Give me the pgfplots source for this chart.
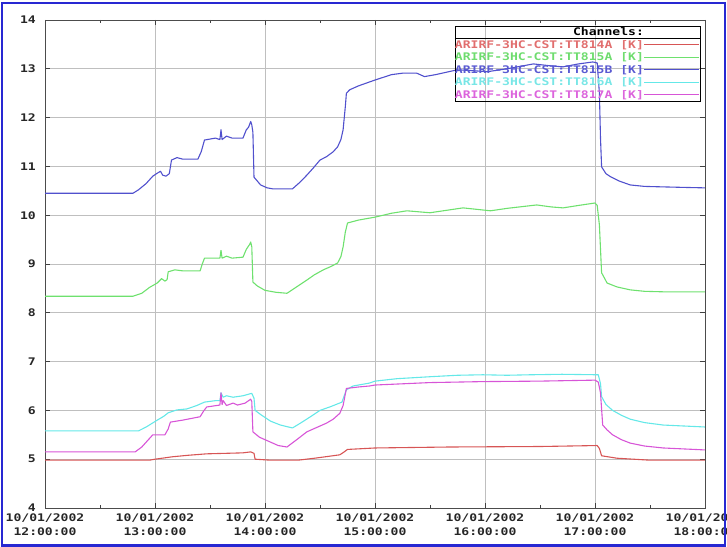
\documentclass[border=0pt]{standalone}
\usepackage{fontspec}
\usepackage{pgfplots}
\pgfplotsset{compat=1.18}
\newfontfamily\pix[FakeStretch=1.25]{DejaVu Sans Mono}
\definecolor{cred}{RGB}{215,85,85}
\definecolor{cgreen}{RGB}{110,225,110}
\definecolor{cblue}{RGB}{80,80,205}
\definecolor{ccyan}{RGB}{100,232,232}
\definecolor{cmag}{RGB}{215,85,215}
\definecolor{lred}{RGB}{225,110,110}
\definecolor{lgreen}{RGB}{110,220,110}
\definecolor{lblue}{RGB}{90,90,210}
\definecolor{lcyan}{RGB}{120,230,230}
\definecolor{lmag}{RGB}{220,100,220}
\definecolor{frameblue}{RGB}{40,40,210}
\begin{document}
\begin{tikzpicture}
\useasboundingbox (0,0) rectangle (727bp,547bp);
\begin{scope}
\clip (0,0) rectangle (727bp,547bp);
\begin{axis}[
  at={(45bp,39bp)}, anchor=south west,
  scale only axis, width=660bp, height=488bp,
  xmin=0, xmax=6, ymin=4, ymax=14,
  xtick={0,1,2,3,4,5,6},
  minor xtick={0.5,1.5,2.5,3.5,4.5,5.5},
  xticklabels={{10/01/2002\\12:00:00},{10/01/2002\\13:00:00},{10/01/2002\\14:00:00},{10/01/2002\\15:00:00},{10/01/2002\\16:00:00},{10/01/2002\\17:00:00},{10/01/2002\\18:00:00}},
  ytick={4,5,6,7,8,9,10,11,12,13,14},
  yticklabels={4,5,6,7,8,9,10,11,12,13,14},
  xticklabel style={font=\pix\bfseries\fontsize{10.5}{13.3}\selectfont, text=black!85, align=center, inner sep=0pt, yshift=-6bp},
  yticklabel style={font=\pix\bfseries\fontsize{10.5}{12}\selectfont, text=black!85, inner sep=0pt, xshift=-9bp},
  grid=major,
  grid style={color=black!25, line width=0.8pt},
  axis line style={color=black!70, line width=0.8pt},
  tick style={color=black!75, line width=0.8pt},
  tick align=inside,
  major tick length=5bp, minor tick length=3bp,
  every axis plot/.append style={line width=1.1pt, line join=round},
  legend style={name=leg, at={(0.6212,0.9877)}, anchor=north west, draw=black, line width=0.8pt, fill=none,
    inner sep=0pt, outer sep=0pt, row sep=0pt, column sep=0pt,
    font=\pix\bfseries\fontsize{10.5}{12}\selectfont,
    nodes={inner sep=0pt, text height=9.7bp, text depth=2.8bp}},
  legend cell align=left,
  legend plot pos=right,
  legend image code/.code={\path (0bp,0bp) -- (55bp,0bp); \draw[#1] (8bp,0bp) -- (46bp,0bp);},
]
\addlegendimage{empty legend}
\addlegendentry{\phantom{ARIRF-3HC-CST:T}Channels:}

\addplot[cred] coordinates {(0,4.98) (0.95,4.98) (1.0,5.00) (1.16,5.05) (1.30,5.08) (1.47,5.11) (1.80,5.13) (1.87,5.15) (1.90,5.12) (1.91,5.00) (2.05,4.98) (2.30,4.98) (2.45,5.02) (2.55,5.05) (2.68,5.09) (2.72,5.15) (2.75,5.20) (3.0,5.23) (3.68,5.25) (4.5,5.26) (5.02,5.28) (5.04,5.22) (5.06,5.07) (5.2,5.02) (5.5,4.98) (6.0,4.98)};
\addlegendentry{\textcolor{lred}{ARIRF-3HC-CST:TT814A [K]}}

\addplot[cgreen] coordinates {(0,8.34) (0.80,8.34) (0.88,8.40) (0.95,8.52) (1.02,8.61) (1.06,8.70) (1.09,8.65) (1.11,8.68) (1.12,8.84) (1.18,8.88) (1.25,8.86) (1.41,8.86) (1.43,9.00) (1.45,9.12) (1.59,9.12) (1.60,9.28) (1.61,9.12) (1.65,9.16) (1.70,9.12) (1.80,9.14) (1.83,9.30) (1.86,9.40) (1.87,9.45) (1.88,9.35) (1.89,8.63) (1.93,8.55) (2.0,8.46) (2.10,8.42) (2.2,8.40) (2.3,8.55) (2.38,8.67) (2.45,8.78) (2.53,8.88) (2.60,8.95) (2.66,9.02) (2.69,9.15) (2.71,9.35) (2.73,9.65) (2.75,9.84) (2.85,9.90) (3.0,9.96) (3.15,10.04) (3.29,10.09) (3.5,10.05) (3.65,10.10) (3.8,10.15) (4.05,10.09) (4.2,10.14) (4.47,10.21) (4.6,10.17) (4.71,10.15) (4.85,10.20) (5.0,10.25) (5.02,10.20) (5.04,9.8) (5.06,8.82) (5.11,8.61) (5.2,8.53) (5.32,8.47) (5.45,8.44) (5.62,8.43) (6,8.43)};
\addlegendentry{\textcolor{lgreen}{ARIRF-3HC-CST:TT815A [K]}}

\addplot[cblue] coordinates {(0,10.45) (0.80,10.45) (0.85,10.52) (0.92,10.65) (0.98,10.80) (1.02,10.86) (1.05,10.90) (1.07,10.82) (1.10,10.80) (1.13,10.85) (1.15,11.13) (1.20,11.18) (1.25,11.15) (1.39,11.15) (1.42,11.30) (1.45,11.54) (1.55,11.58) (1.59,11.55) (1.60,11.75) (1.61,11.55) (1.65,11.62) (1.70,11.58) (1.80,11.58) (1.83,11.75) (1.85,11.80) (1.87,11.92) (1.88,11.85) (1.89,11.70) (1.90,10.78) (1.93,10.70) (1.96,10.62) (2.02,10.56) (2.07,10.54) (2.25,10.54) (2.32,10.68) (2.38,10.82) (2.44,10.97) (2.50,11.13) (2.56,11.20) (2.62,11.30) (2.66,11.40) (2.69,11.55) (2.71,11.75) (2.73,12.22) (2.74,12.50) (2.77,12.57) (2.85,12.65) (3.0,12.77) (3.15,12.88) (3.25,12.91) (3.38,12.91) (3.45,12.84) (3.55,12.88) (3.75,12.98) (3.9,12.96) (4.02,12.94) (4.2,13.0) (4.44,13.1) (4.6,13.06) (4.71,13.04) (4.85,13.10) (4.98,13.14) (5.02,13.12) (5.04,12.5) (5.05,11.58) (5.06,10.99) (5.10,10.85) (5.14,10.79) (5.22,10.70) (5.32,10.62) (5.45,10.59) (5.62,10.58) (5.8,10.57) (6.0,10.56)};
\addlegendentry{\textcolor{lblue}{ARIRF-3HC-CST:TT815B [K]}}

\addplot[ccyan] coordinates {(0,5.58) (0.85,5.58) (0.92,5.66) (1.02,5.80) (1.08,5.88) (1.12,5.95) (1.20,6.01) (1.29,6.03) (1.38,6.10) (1.45,6.17) (1.55,6.20) (1.59,6.20) (1.60,6.36) (1.62,6.27) (1.65,6.30) (1.71,6.27) (1.80,6.30) (1.88,6.35) (1.90,6.25) (1.91,6.00) (1.97,5.90) (2.05,5.78) (2.14,5.70) (2.25,5.64) (2.33,5.75) (2.42,5.88) (2.50,6.00) (2.60,6.08) (2.70,6.17) (2.72,6.30) (2.74,6.42) (2.80,6.50) (2.95,6.56) (3.0,6.60) (3.2,6.65) (3.5,6.69) (3.75,6.72) (3.98,6.73) (4.2,6.72) (4.41,6.73) (4.7,6.74) (5.03,6.73) (5.05,6.55) (5.06,6.28) (5.10,6.12) (5.16,6.00) (5.24,5.90) (5.32,5.82) (5.45,5.75) (5.62,5.70) (6.0,5.66)};
\addlegendentry{\textcolor{lcyan}{ARIRF-3HC-CST:TT816A [K]}}

\addplot[cmag] coordinates {(0,5.15) (0.82,5.15) (0.88,5.25) (0.94,5.40) (0.98,5.50) (1.09,5.50) (1.12,5.62) (1.14,5.76) (1.25,5.80) (1.41,5.87) (1.44,5.98) (1.47,6.07) (1.59,6.11) (1.60,6.36) (1.61,6.12) (1.62,6.20) (1.65,6.10) (1.71,6.15) (1.75,6.11) (1.82,6.15) (1.87,6.23) (1.88,6.18) (1.89,5.56) (1.95,5.45) (2.05,5.35) (2.12,5.28) (2.2,5.25) (2.3,5.42) (2.38,5.56) (2.48,5.66) (2.56,5.74) (2.62,5.82) (2.68,5.94) (2.71,6.10) (2.74,6.45) (2.85,6.48) (2.95,6.50) (3.0,6.52) (3.5,6.57) (3.98,6.59) (4.5,6.60) (5.0,6.62) (5.03,6.58) (5.05,6.36) (5.07,5.70) (5.11,5.60) (5.16,5.50) (5.24,5.40) (5.32,5.33) (5.45,5.27) (5.62,5.23) (6.0,5.19)};
\addlegendentry{\textcolor{lmag}{ARIRF-3HC-CST:TT817A [K]}}
\end{axis}
\draw[black, line width=0.8pt] ([yshift=-12.5bp]leg.north west) -- ([yshift=-12.5bp]leg.north east);
\end{scope}
\draw[frameblue, line width=2bp] (2bp,1.5bp) rectangle (725bp,544bp);
\end{tikzpicture}
\end{document}
